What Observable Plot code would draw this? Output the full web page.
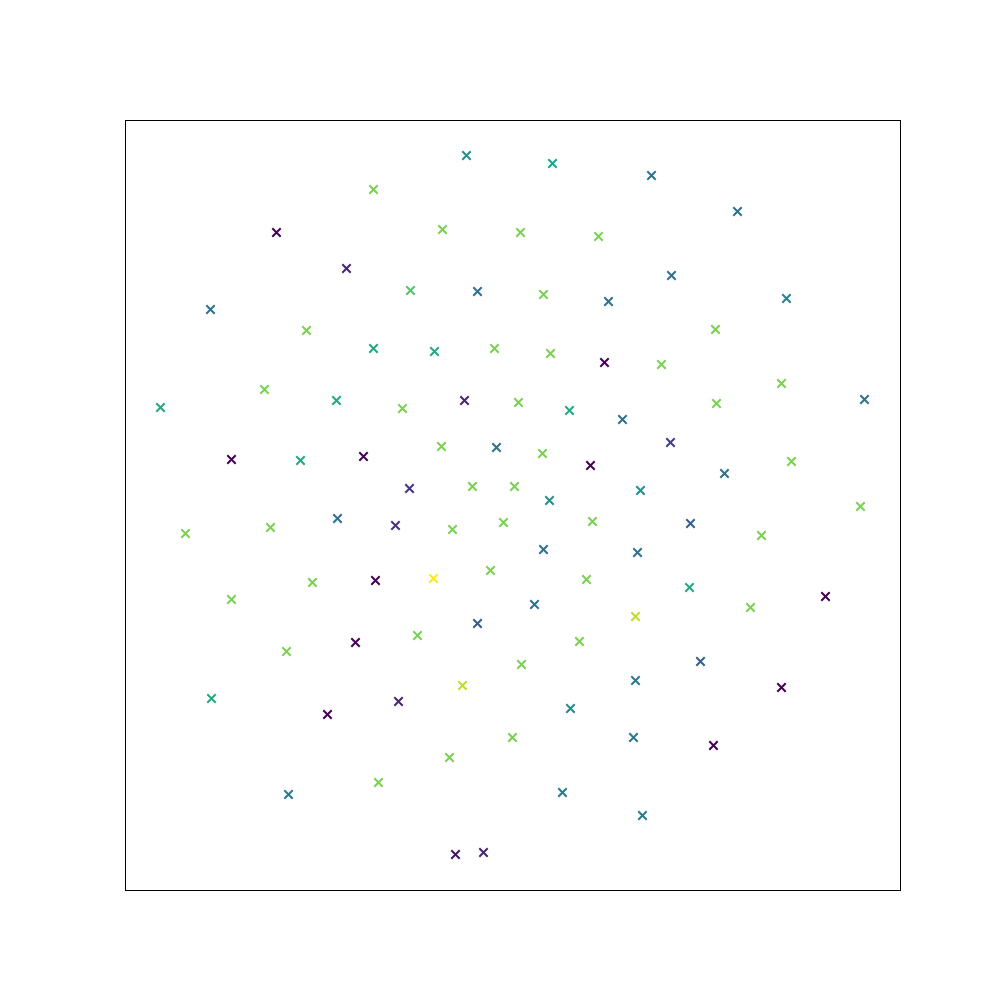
<!DOCTYPE html>
<html>
<head>
<meta charset="utf-8">
<script src="https://cdn.jsdelivr.net/npm/d3@7"></script>
<script src="https://cdn.jsdelivr.net/npm/@observablehq/plot@0.6"></script>
<style>
  html, body { margin: 0; padding: 0; background: #fff; }
  #chart { width: 1000px; height: 1000px; }
</style>
</head>
<body>
<div id="chart"></div>
<script>
// Point positions (data units, origin at bottom-left of frame)
const xs = [341,427,526,248,612,151,317,395,473,221,
            546,285,352,418,661,85,483,181,590,248,
            309,369,425,479,536,139,656,35,211,277,
            339,393,444,497,591,739,106,175,238,316,
            371,417,465,545,599,666,284,347,389,424,
            515,60,145,212,270,327,378,467,565,636,
            735,418,512,106,187,250,308,365,461,564,
            409,510,625,700,230,292,352,454,161,575,
            396,337,510,86,273,202,656,445,387,508,
            588,324,253,163,437,517,330,358];
const ys = [735,727,715,701,679,658,661,658,654,622,
            615,600,599,596,592,581,589,560,561,542,
            539,542,537,528,526,501,507,483,490,482,
            490,488,480,471,487,491,431,430,434,444,
            443,437,425,448,417,429,402,404,404,390,
            400,357,363,372,365,361,368,369,367,355,
            384,341,338,291,308,310,312,320,311,303,
            286,274,283,294,248,255,267,249,239,229,
            226,205,210,192,189,176,203,182,153,153,
            145,133,108,96,98,75,36,38];
// Colour values (0–1 on the viridis map)
const cs = [0.5,0.58,0.37,0.8,0.37,0,0.8,0.8,0.8,0.1,
            0.37,0.73,0.37,0.8,0.43,0.37,0.37,0.8,0.8,0.6,
            0.6,0.8,0.8,0,0.8,0.8,0.8,0.6,0.6,0.8,
            0.1,0.8,0.6,0.37,0.8,0.37,0,0.6,0,0.8,
            0.37,0.8,0,0.18,0.37,0.8,0.15,0.8,0.8,0.5,
            0.5,0.8,0.8,0.37,0.15,0.8,0.8,0.8,0.3,0.8,
            0.8,0.37,0.37,0.8,0.8,0,1.0,0.8,0.8,0.6,
            0.37,0.9,0.8,0,0,0.8,0.28,0.8,0.8,0.3,
            0.8,0.9,0.4,0.6,0.1,0,0,0.48,0.8,0.4,
            0,0.8,0.8,0.4,0.4,0.4,0.05,0.1];

const points = xs.map((x, i) => ({x, y: ys[i], c: cs[i]}));

const chart = Plot.plot({
  width: 1000,
  height: 1000,
  marginLeft: 125,
  marginRight: 100,
  marginTop: 120,
  marginBottom: 110,
  x: {domain: [0, 775], axis: null},
  y: {domain: [0, 770], axis: null},
  color: {type: "linear", scheme: "viridis", domain: [0, 1]},
  marks: [
    Plot.frame({stroke: "black", strokeWidth: 1}),
    Plot.dot(points, {x: "x", y: "y", stroke: "c", symbol: "times", r: 3.9, strokeWidth: 2})
  ]
});
document.getElementById("chart").appendChild(chart);
</script>
</body>
</html>
